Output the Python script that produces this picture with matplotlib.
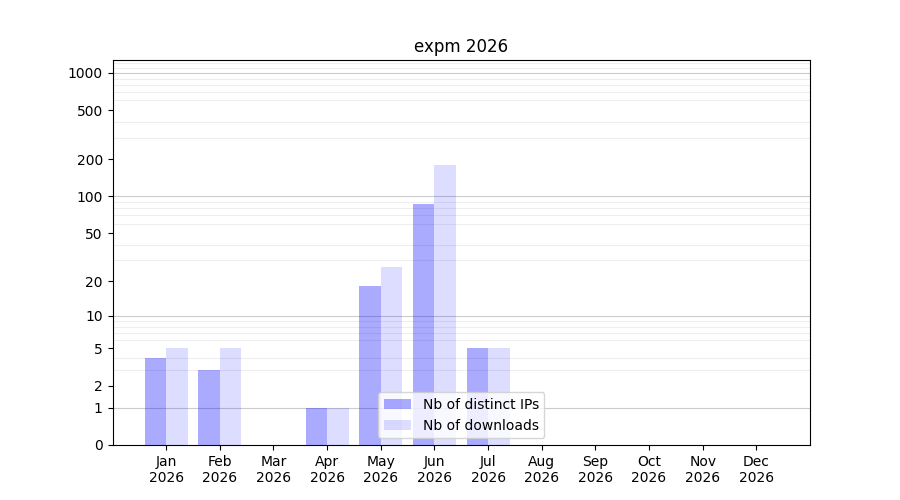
import matplotlib
matplotlib.use('Agg')
import matplotlib.pyplot as plt
import numpy as np

# Monthly download stats for expm in 2026
months = ['Jan', 'Feb', 'Mar', 'Apr', 'May', 'Jun',
          'Jul', 'Aug', 'Sep', 'Oct', 'Nov', 'Dec']
year = 2026
distinct_ips = [4, 3, 0, 1, 18, 86, 5, 0, 0, 0, 0, 0]
downloads = [5, 5, 0, 1, 26, 180, 5, 0, 0, 0, 0, 0]

y_ticks = [0, 1, 2, 5, 10, 20, 50, 100, 200, 500, 1000]

x = np.arange(1, len(months) + 1)
width = 0.4

fig, ax = plt.subplots(figsize=(9, 5), dpi=100)

# log(1+x) scale so zero still shows
ax.set_yscale('function', functions=(lambda v: np.log10(1 + np.maximum(v, 0)),
                                     lambda v: 10 ** v - 1))

ax.bar(x - width / 2, distinct_ips, width, color='blue', alpha=0.333,
       label='Nb of distinct IPs', zorder=3)
ax.bar(x + width / 2, downloads, width, color='blue', alpha=0.133,
       label='Nb of downloads', zorder=3)

ax.set_xlim(0, 13)
ax.set_ylim(0, 1270)
ax.set_xticks(x)
ax.set_xticklabels([m + '\n' + str(year) for m in months])

ax.set_yticks(y_ticks)
ax.set_yticklabels([str(t) for t in y_ticks])
minor = [m * 10 ** k for k in range(3) for m in range(2, 10)] + [1100, 1200]
ax.set_yticks(minor, minor=True)
ax.tick_params(axis='y', which='minor', length=0)
ax.yaxis.grid(True, which='minor', color='#eeeeee', linewidth=0.8, zorder=0)
for d in [1, 10, 100, 1000]:
    ax.axhline(d, color='#cccccc', linewidth=0.8, zorder=1)

ax.set_title('expm 2026')
ax.legend(loc='lower center')

plt.savefig('out.png')
